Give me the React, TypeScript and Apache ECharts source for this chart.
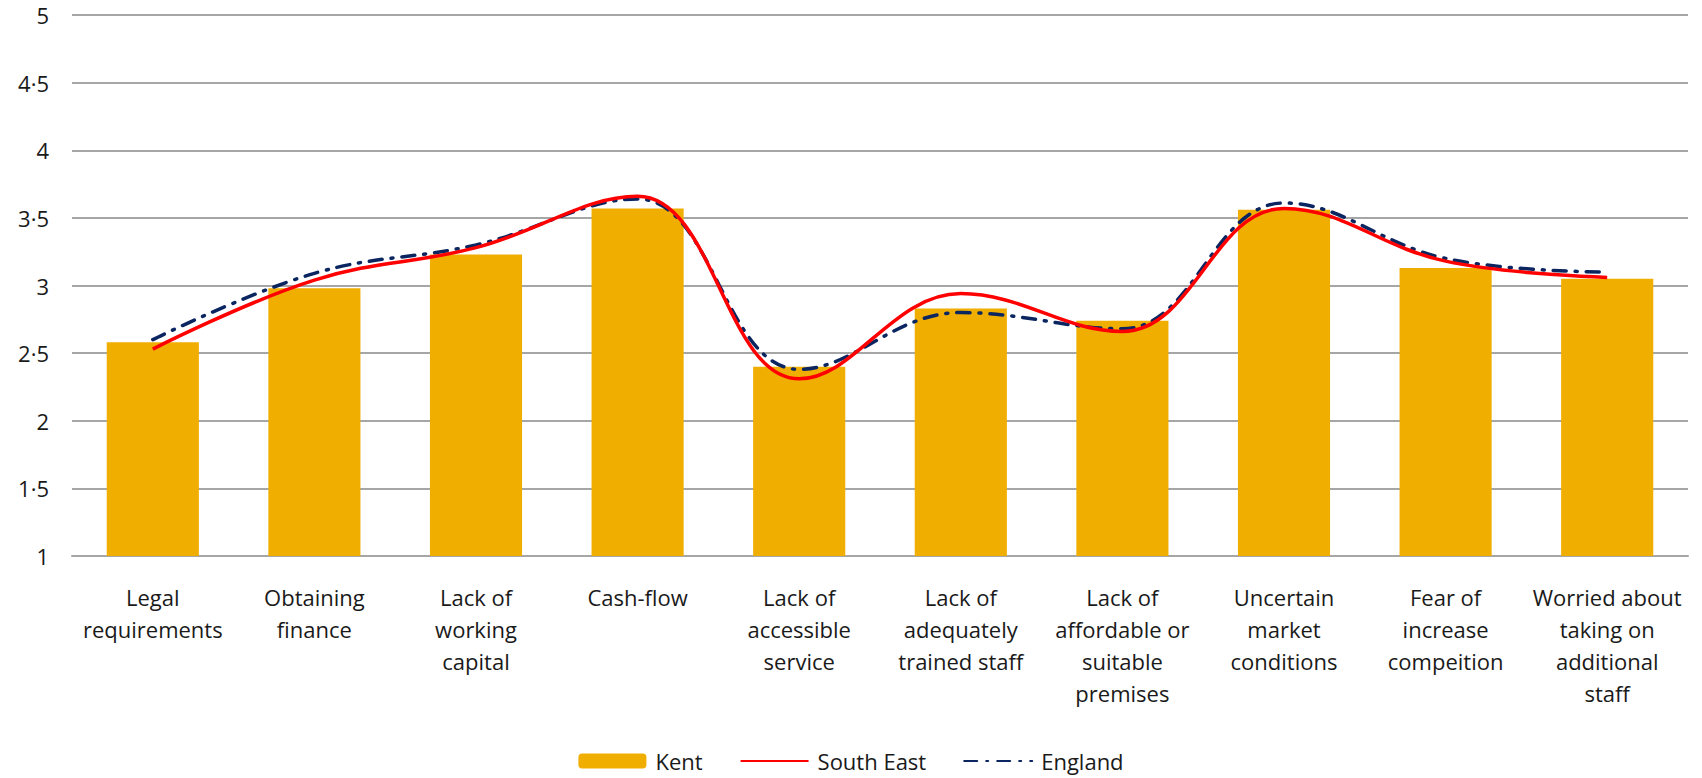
import React, { useEffect, useRef } from "react";
import * as echarts from "echarts";

const categories = [
  "Legal\nrequirements",
  "Obtaining\nfinance",
  "Lack of\nworking\ncapital",
  "Cash-flow",
  "Lack of\naccessible\nservice",
  "Lack of\nadequately\ntrained staff",
  "Lack of\naffordable or\nsuitable\npremises",
  "Uncertain\nmarket\nconditions",
  "Fear of\nincrease\ncompeition",
  "Worried about\ntaking on\nadditional\nstaff",
];

const kent = [2.58, 2.98, 3.23, 3.57, 2.4, 2.83, 2.74, 3.56, 3.13, 3.05];
const southEast = [2.53, 3.04, 3.28, 3.66, 2.31, 2.94, 2.66, 3.57, 3.18, 3.06];
const england = [2.6, 3.09, 3.3, 3.64, 2.38, 2.8, 2.68, 3.61, 3.2, 3.1];

const yMin = 1;
const yMax = 5;
const yInterval = 0.5;

const FONT = "Open Sans";

export default function App() {
  const ref = useRef<HTMLDivElement>(null);

  useEffect(() => {
    if (!ref.current) return;
    const chart = echarts.init(ref.current, null, { renderer: "svg" });
    chart.setOption({
      animation: false,
      backgroundColor: "#ffffff",
      textStyle: { fontFamily: FONT },
      grid: { left: 72, right: 14, top: 15, bottom: 222, containLabel: false },
      legend: {
        top: 744,
        left: "center",
        itemWidth: 68,
        itemHeight: 15,
        itemGap: 37,
        textStyle: {
          fontSize: 22,
          lineHeight: 24,
          color: "#1a1a1a",
          fontFamily: FONT,
          padding: [0, 0, 0, 4],
        },
        data: [
          { name: "Kent" },
          { name: "South East", itemStyle: { opacity: 0 } },
          { name: "England", itemStyle: { opacity: 0 } },
        ],
      },
      xAxis: {
        type: "category",
        data: categories,
        axisLine: { show: true, lineStyle: { color: "#a6a6a6", width: 2 } },
        axisTick: { show: false },
        axisLabel: {
          interval: 0,
          fontSize: 22,
          lineHeight: 32,
          color: "#1a1a1a",
          margin: 25,
          fontFamily: FONT,
        },
      },
      yAxis: {
        type: "value",
        min: yMin,
        max: yMax,
        interval: yInterval,
        axisLine: { show: false },
        axisTick: { show: false },
        splitLine: { lineStyle: { color: "#a6a6a6", width: 2 } },
        axisLabel: {
          fontSize: 22,
          color: "#1a1a1a",
          margin: 23,
          fontFamily: FONT,
          formatter: (v: number) => String(v).replace(".", "·"),
        },
      },
      series: [
        {
          name: "Kent",
          type: "bar",
          data: kent,
          barCategoryGap: "43%",
          itemStyle: { color: "#F0AE00" },
        },
        {
          name: "South East",
          type: "line",
          data: southEast,
          smooth: 0.4,
          symbol: "none",
          lineStyle: { color: "#FF0000", width: 3.5 },
          itemStyle: { color: "#FF0000" },
          z: 3,
        },
        {
          name: "England",
          type: "line",
          data: england,
          smooth: 0.4,
          symbol: "none",
          lineStyle: { color: "#0B2560", width: 3.5, type: [13, 9, 2, 9], cap: "round" },
          itemStyle: { color: "#0B2560" },
          z: 2,
        },
      ],
    });
    return () => chart.dispose();
  }, []);

  return (
    <div
      ref={ref}
      style={{ position: "absolute", left: 0, top: 0, width: 1702, height: 778 }}
    />
  );
}
